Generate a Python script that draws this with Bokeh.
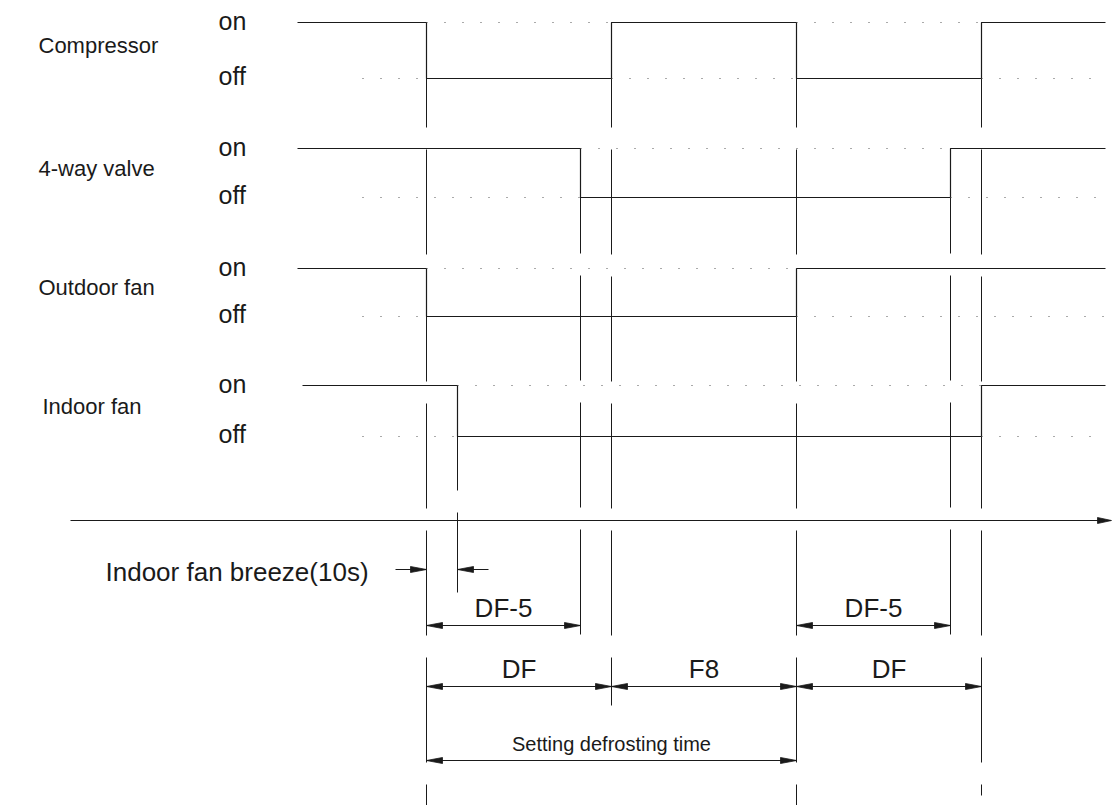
from bokeh.plotting import figure
from bokeh.models import Range1d
from bokeh.core.properties import value
from bokeh.embed import file_html
from bokeh.resources import INLINE

# ---------------- data ----------------
signal_names = ["Compressor", "4-way valve", "Outdoor fan", "Indoor fan"]
state_labels = ["on", "off"]

# switching instants on the time line (diagram units)
compressor_edges = [297, 426, 611, 796, 981, 1105]
compressor_states = [1, 0, 1, 0, 1]
valve_edges = [297, 580, 950, 1105]
valve_states = [1, 0, 1]
outdoor_edges = [297, 426, 796, 1105]
outdoor_states = [1, 0, 1]
indoor_edges = [302, 457, 981, 1105]
indoor_states = [1, 0, 1]

# reference instants (vertical extension lines)
event_times = [426, 457, 580, 611, 796, 950, 981]

# interval annotations: start, end, label, row
interval_start = [426, 796, 426, 611, 796, 426]
interval_end = [580, 950, 611, 796, 981, 796]
interval_label = ["DF-5", "DF-5", "DF", "F8", "DF", "Setting defrosting time"]
interval_row = [0, 0, 1, 1, 1, 2]

breeze_label = "Indoor fan breeze(10s)"
breeze_start = 426
breeze_end = 457

# ---------------- layout / style ----------------
W, H = 1112, 805
FONT = value("Liberation Sans")
INK = "#1a1a1a"
DOT = "#555555"

on_y = [22, 148, 268, 385]
off_y = [78, 197, 316, 436]
label_x = [38, 38, 38, 42]
ghost_start = 362
axis_y = 520
axis_x0 = 70
row_y = [625, 686, 760]
breeze_y = 569
ext_top_signal = [0, 3, 1, 0, 0, 1, 0]
ext_bottom = [805, 592, 656, 705, 805, 656, 795]

p = figure(width=W, height=H, x_range=Range1d(0, W), y_range=Range1d(H, 0),
           output_backend="svg", toolbar_location=None, min_border=0)
p.axis.visible = False
p.grid.visible = False
p.outline_line_color = None
p.background_fill_color = "white"
p.border_fill_color = "white"

def head(x, y, d, L=16, w=3):
    return [x, x - d * L, x - d * L], [y, y - w, y + w]

heads_x, heads_y = [], []

# extension lines (long dashes)
for t, s, b in zip(event_times, ext_top_signal, ext_bottom):
    p.line([t, t], [on_y[s], b], line_color=INK, line_width=1, line_dash="105 22")

# signals
signals = [(compressor_edges, compressor_states), (valve_edges, valve_states),
           (outdoor_edges, outdoor_states), (indoor_edges, indoor_states)]
for i, (edges, states) in enumerate(signals):
    lvl = {1: on_y[i], 0: off_y[i]}
    xs, ys = [], []
    for k, st in enumerate(states):
        xs += [edges[k], edges[k + 1]]
        ys += [lvl[st], lvl[st]]
    p.line(xs, ys, line_color=INK, line_width=1.2)
    # ghost (complementary) level, dotted
    for k, st in enumerate(states):
        x0 = ghost_start if k == 0 else edges[k]
        p.line([x0, edges[k + 1]], [lvl[1 - st], lvl[1 - st]], line_color=DOT,
               line_width=1, line_dash="1 17")
    # labels
    p.text(x=[label_x[i]], y=[(on_y[i] + off_y[i]) / 2 - 5], text=[signal_names[i]],
           text_font=FONT, text_font_size="22px", text_baseline="middle", text_color=INK)
    p.text(x=[218, 218], y=[on_y[i] - 2, off_y[i] - 3], text=state_labels,
           text_font=FONT, text_font_size="25px", text_baseline="middle", text_color=INK)

# time axis
p.line([axis_x0, W - 2], [axis_y, axis_y], line_color=INK, line_width=1.2)
hx, hy = head(W - 1, axis_y, 1, L=14, w=3)
heads_x.append(hx); heads_y.append(hy)

# breeze markers
p.line([breeze_start - 31, breeze_start], [breeze_y, breeze_y], line_color=INK, line_width=1)
p.line([breeze_end, breeze_end + 31], [breeze_y, breeze_y], line_color=INK, line_width=1)
for x, d in [(breeze_start, 1), (breeze_end, -1)]:
    hx, hy = head(x, breeze_y, d)
    heads_x.append(hx); heads_y.append(hy)
p.text(x=[105], y=[breeze_y + 2], text=[breeze_label], text_font=FONT, text_font_size="26px",
       text_baseline="middle", text_color=INK)

# interval dimensions
for a, b, lab, r in zip(interval_start, interval_end, interval_label, interval_row):
    y = row_y[r]
    p.line([a, b], [y, y], line_color=INK, line_width=1)
    for x, d in [(a, -1), (b, 1)]:
        hx, hy = head(x, y, d)
        heads_x.append(hx); heads_y.append(hy)
    fs = "20px" if r == 2 else "26px"
    off = 6 if r == 2 else 3
    p.text(x=[(a + b) / 2], y=[y - off], text=[lab], text_font=FONT, text_font_size=fs,
           text_align="center", text_baseline="bottom", text_color=INK)

p.patches(heads_x, heads_y, fill_color=INK, line_color=INK, line_width=0.8)

open("out.html", "w").write(file_html(p, INLINE))
